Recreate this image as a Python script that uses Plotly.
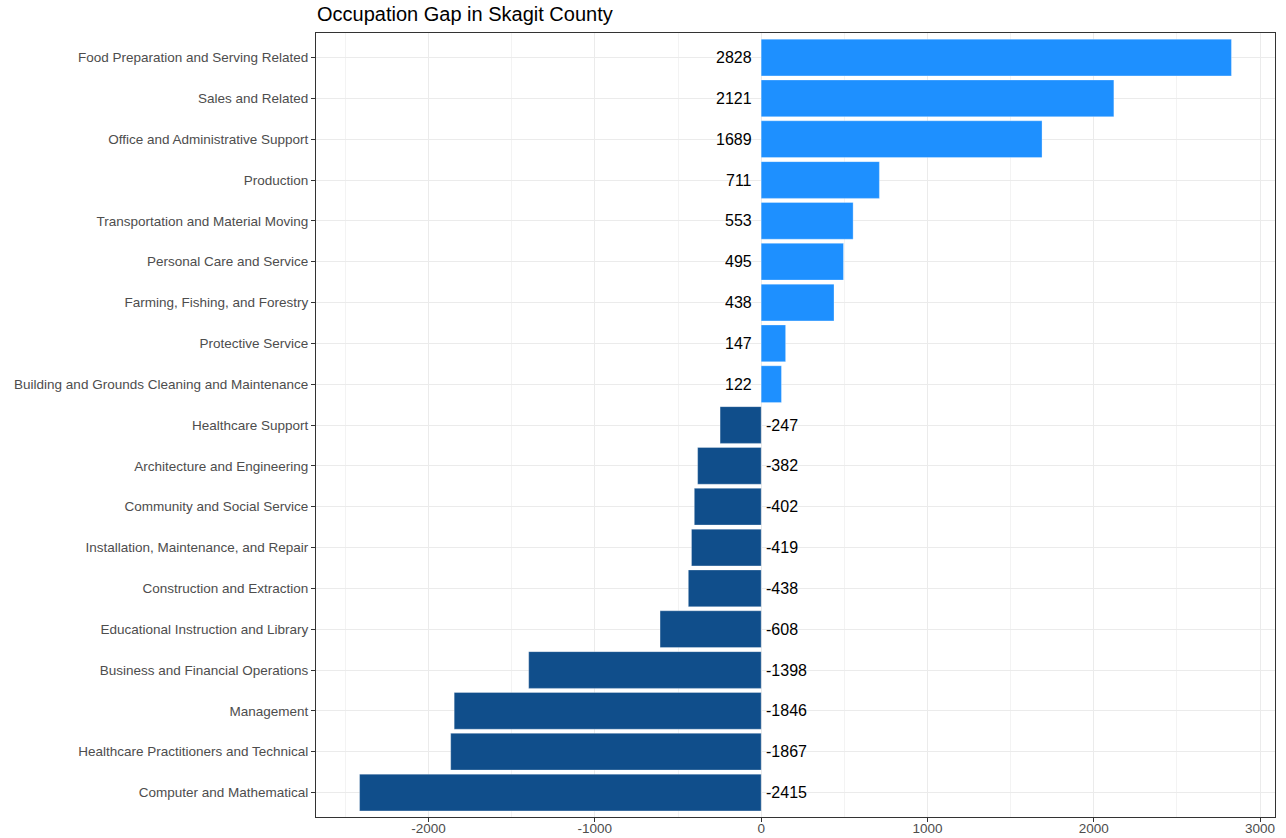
import plotly.graph_objects as go

categories = [
    "Computer and Mathematical",
    "Healthcare Practitioners and Technical",
    "Management",
    "Business and Financial Operations",
    "Educational Instruction and Library",
    "Construction and Extraction",
    "Installation, Maintenance, and Repair",
    "Community and Social Service",
    "Architecture and Engineering",
    "Healthcare Support",
    "Building and Grounds Cleaning and Maintenance",
    "Protective Service",
    "Farming, Fishing, and Forestry",
    "Personal Care and Service",
    "Transportation and Material Moving",
    "Production",
    "Office and Administrative Support",
    "Sales and Related",
    "Food Preparation and Serving Related",
]
gap = [-2415, -1867, -1846, -1398, -608, -438, -419, -402, -382, -247,
       122, 147, 438, 495, 553, 711, 1689, 2121, 2828]
x_ticks = [-2000, -1000, 0, 1000, 2000, 3000]

POS = "#1E90FF"
NEG = "#104E8B"
FONT = "Liberation Sans, Arial, sans-serif"
colors = [POS if v > 0 else NEG for v in gap]

fig = go.Figure()
fig.add_trace(go.Bar(
    x=gap, y=categories, orientation="h", width=0.9,
    marker=dict(color=colors, line=dict(color="rgba(255,255,255,0.5)", width=0.6)),
    hoverinfo="x+y", showlegend=False,
))

annotations = []
for c, v in zip(categories, gap):
    if v > 0:
        annotations.append(dict(x=0, y=c, xref="x", yref="y", text=str(v), showarrow=False,
                                xanchor="right", xshift=-7,
                                font=dict(family=FONT, size=16, color="black")))
    else:
        annotations.append(dict(x=0, y=c, xref="x", yref="y", text=str(v), showarrow=False,
                                xanchor="left", xshift=3,
                                font=dict(family=FONT, size=16, color="black")))

fig.update_layout(
    width=1286, height=838,
    margin=dict(l=316, r=11, t=33, b=21, autoexpand=False),
    paper_bgcolor="white", plot_bgcolor="white",
    font=dict(family=FONT, color="#4D4D4D", size=13.5),
    annotations=annotations,
    title=dict(text="Occupation Gap in Skagit County", x=317 / 1286, xanchor="left",
               y=1 - 14 / 838, yanchor="middle",
               font=dict(size=20, color="black", family=FONT)),
    xaxis=dict(
        automargin=False,
        range=[-2677, 3090], tickvals=x_ticks, ticktext=[str(t) for t in x_ticks],
        showgrid=True, gridcolor="#EBEBEB", gridwidth=1,
        minor=dict(tickvals=[-2500, -1500, -500, 500, 1500, 2500], showgrid=True,
                   gridcolor="#F3F3F3", gridwidth=0.6, ticks=""),
        zeroline=False, showline=True, linecolor="#333333", linewidth=1, mirror=True,
        ticks="outside", ticklen=4, tickcolor="#333333", ticklabelstandoff=-5,
        tickfont=dict(size=13.5, color="#4D4D4D"),
    ),
    yaxis=dict(
        automargin=False,
        categoryorder="array", categoryarray=categories, range=[-0.6, 18.6],
        showgrid=True, gridcolor="#EBEBEB", gridwidth=1,
        zeroline=False, showline=True, linecolor="#333333", linewidth=1, mirror=True,
        ticks="outside", ticklen=4, tickcolor="#333333",
        tickfont=dict(size=13.5, color="#4D4D4D"),
    ),
)

fig.write_html("out.html", config={"displayModeBar": False},
               post_script="document.body.style.margin='0';document.body.style.overflow='hidden';")
